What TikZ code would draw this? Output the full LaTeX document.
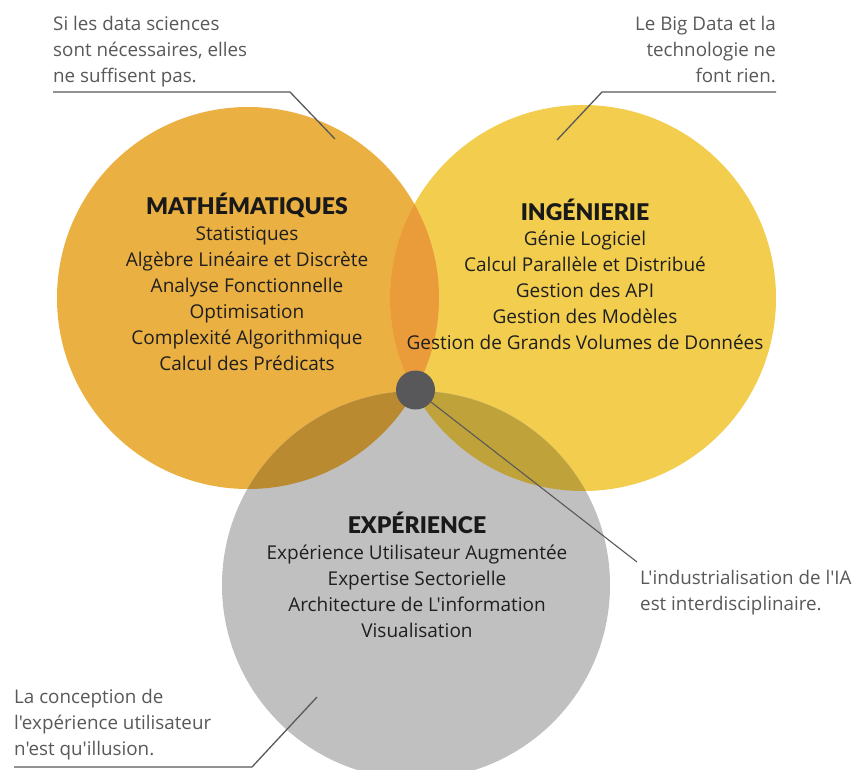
\documentclass[tikz,border=0pt]{standalone}
\usepackage{fontspec}
\newfontfamily\plainfont{Open Sans}
\newfontfamily\ttlfont{Lato Black}
\begin{document}
\begin{tikzpicture}[x=1pt,y=-1pt,
  body/.style={align=center, text=black!88, font=\plainfont\fontsize{19}{26}\selectfont, inner sep=0pt},
  ttl/.style={text=black!90, font=\ttlfont\fontsize{23}{26}\selectfont, inner sep=0pt},
  note/.style={text=black!65, font=\plainfont\fontsize{18.8}{26}\selectfont, inner sep=0pt},
  leader/.style={draw=black!65, line width=1.3pt}]
\definecolor{corange}{HTML}{EBB042}
\definecolor{cyellow}{HTML}{F2CD4E}
\definecolor{cgray}{HTML}{C0C0C0}
\definecolor{coy}{HTML}{EA9B3A}
\definecolor{cog}{HTML}{B98A30}
\definecolor{cyg}{HTML}{BFA23A}
\definecolor{cdark}{HTML}{58585A}
\useasboundingbox (0,0) rectangle (854,769);
\fill[white] (0,0) rectangle (854,769);
% circles
\fill[corange] (248,298) circle (191);
\fill[cyellow] (583,298) circle (193);
\fill[cgray] (416,585) circle (194);
\begin{scope}
  \clip (248,298) circle (191);
  \fill[coy] (583,298) circle (193);
  \fill[cog] (416,585) circle (194);
\end{scope}
\begin{scope}
  \clip (583,298) circle (193);
  \fill[cyg] (416,585) circle (194);
\end{scope}
% titles and lists
\node[ttl] (tmath) at (247,205) {MATHÉMATIQUES};
\node[body, anchor=north] (lmath) at (247,226) {Statistiques\\Algèbre Linéaire et Discrète\\Analyse Fonctionnelle\\Optimisation\\Complexité Algorithmique\\Calcul des Prédicats};
\node[ttl] (ting) at (585,210) {INGÉNIERIE};
\node[body, anchor=north] (ling) at (585,230.5) {Génie Logiciel\\Calcul Parallèle et Distribué\\Gestion des API\\Gestion des Modèles\\Gestion de Grands Volumes de Données};
\node[ttl] (texp) at (417,523) {EXPÉRIENCE};
\node[body, anchor=north] (lexp) at (417,545) {Expérience Utilisateur Augmentée\\Expertise Sectorielle\\Architecture de L'information\\Visualisation};
% center dot
\node[circle, fill=cdark, minimum size=39pt, inner sep=0pt] (dot) at (415.5,390) {};
% annotations
\node[note, align=left, anchor=north west] (n1) at (53,16) {Si les data sciences\\sont nécessaires, elles\\ne suffisent pas.};
\coordinate (n1a) at (53,92);
\coordinate (n1b) at (290,92);
\coordinate (n1c) at (335,139);
\draw[leader] (n1a) -- (n1b) -- (n1c);
\node[note, align=right, anchor=north east] (n2) at (776,16) {Le Big Data et la\\technologie ne\\font rien.};
\coordinate (n2a) at (776,92);
\coordinate (n2b) at (602,92);
\coordinate (n2c) at (557,140);
\draw[leader] (n2a) -- (n2b) -- (n2c);
\node[note, align=left, anchor=north west] (n3) at (14,689) {La conception de\\l'expérience utilisateur\\n'est qu'illusion.};
\coordinate (n3a) at (14,767);
\coordinate (n3b) at (252,767);
\coordinate (n3c) at (317,697);
\draw[leader] (n3a) -- (n3b) -- (n3c);
\node[note, align=left, anchor=north west] (n4) at (640,570) {L'industrialisation de l'IA\\est interdisciplinaire.};
\coordinate (n4c) at (637,562);
\draw[leader, line width=1.1pt] (dot) -- (n4c);
\end{tikzpicture}
\end{document}
